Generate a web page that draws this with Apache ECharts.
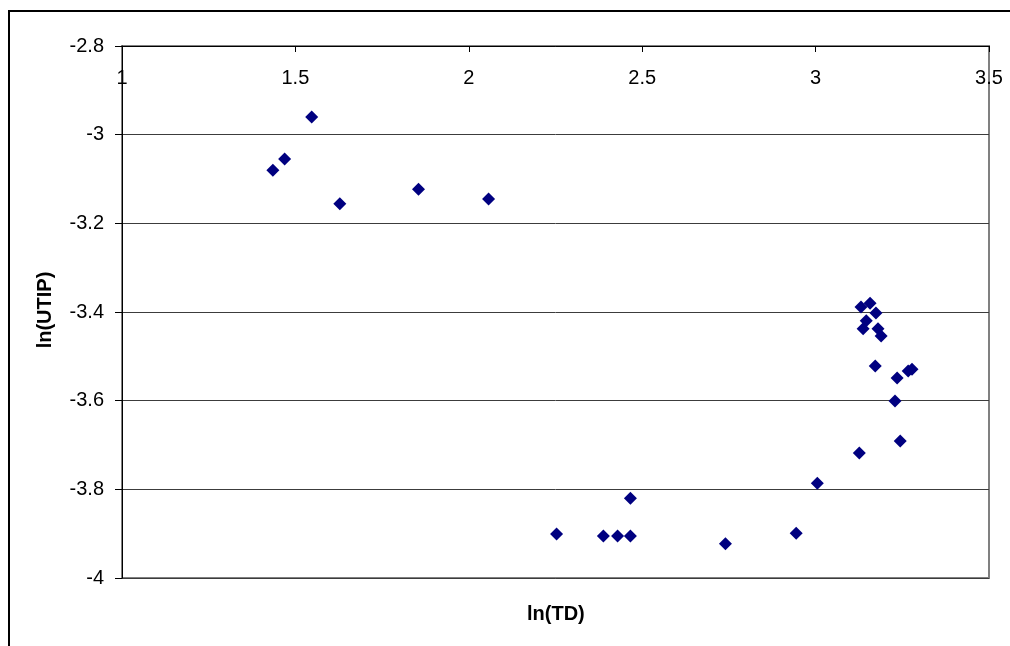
<!DOCTYPE html>
<html>
<head>
<meta charset="utf-8">
<script src="https://cdn.jsdelivr.net/npm/echarts@6/dist/echarts.min.js"></script>
<style>
  html, body { margin: 0; padding: 0; background: #fff; }
  #chart { width: 1010px; height: 646px; }
</style>
</head>
<body>
<div id="chart"></div>
<script>
// ln(TD) against ln(UTIP) observations
const lnTD = [
  1.435, 1.469, 1.547, 1.628, 1.855, 2.057,
  2.253, 2.388, 2.429, 2.466, 2.466, 2.740, 2.944, 3.005,
  3.126, 3.131, 3.157, 3.174, 3.146, 3.137, 3.180, 3.189,
  3.172, 3.235, 3.267, 3.278, 3.229, 3.244
];
const lnUTIP = [
  -3.080, -3.055, -2.960, -3.156, -3.123, -3.145,
  -3.901, -3.905, -3.905, -3.905, -3.820, -3.923, -3.899, -3.786,
  -3.718, -3.389, -3.380, -3.402, -3.420, -3.438, -3.438, -3.454,
  -3.522, -3.549, -3.533, -3.529, -3.601, -3.691
];
const xTitle = 'ln(TD)';
const yTitle = 'ln(UTIP)';

const points = lnTD.map((x, i) => [x, lnUTIP[i]]);
const FONT = 'Liberation Sans, Arial, sans-serif';

const chart = echarts.init(document.getElementById('chart'), null, { renderer: 'canvas' });
chart.setOption({
  backgroundColor: '#ffffff',
  animation: false,
  grid: {
    left: 122, top: 46, right: 21, bottom: 68,
    show: true, borderColor: '#808080', borderWidth: 2, backgroundColor: '#ffffff'
  },
  xAxis: {
    type: 'value', position: 'top', min: 1, max: 3.5, interval: 0.5,
    axisLine: { show: true, onZero: false, lineStyle: { color: '#000', width: 1 } },
    axisTick: { show: true, inside: true, length: 6, lineStyle: { color: '#000' } },
    axisLabel: { inside: true, margin: 22, color: '#000', fontFamily: FONT, fontSize: 20 },
    splitLine: { show: false }
  },
  yAxis: {
    type: 'value', min: -4, max: -2.8, interval: 0.2,
    axisLine: { show: true, onZero: false, lineStyle: { color: '#000', width: 1 } },
    axisTick: { show: true, inside: false, length: 7, lineStyle: { color: '#000' } },
    axisLabel: { margin: 18, color: '#000', fontFamily: FONT, fontSize: 20 },
    splitLine: { show: true, lineStyle: { color: '#3c3c3c', width: 1 } }
  },
  series: [{
    type: 'scatter',
    data: points,
    symbol: 'diamond',
    symbolSize: 13,
    itemStyle: { color: '#000080', opacity: 1 }
  }],
  graphic: [
    // outer frame around the chart
    { type: 'polyline', shape: { points: [[9, 700], [9, 11], [1100, 11]] },
      style: { stroke: '#000', lineWidth: 2, fill: null }, silent: true },
    { type: 'text', left: 527, top: 604,
      style: { text: xTitle, fontFamily: FONT, fontSize: 20, fontWeight: 'bold', fill: '#000' } },
    { type: 'text', x: 45, y: 310, rotation: Math.PI / 2,
      style: { text: yTitle, fontFamily: FONT, fontSize: 20, fontWeight: 'bold', fill: '#000',
               align: 'center', verticalAlign: 'middle' } }
  ]
});
</script>
</body>
</html>
